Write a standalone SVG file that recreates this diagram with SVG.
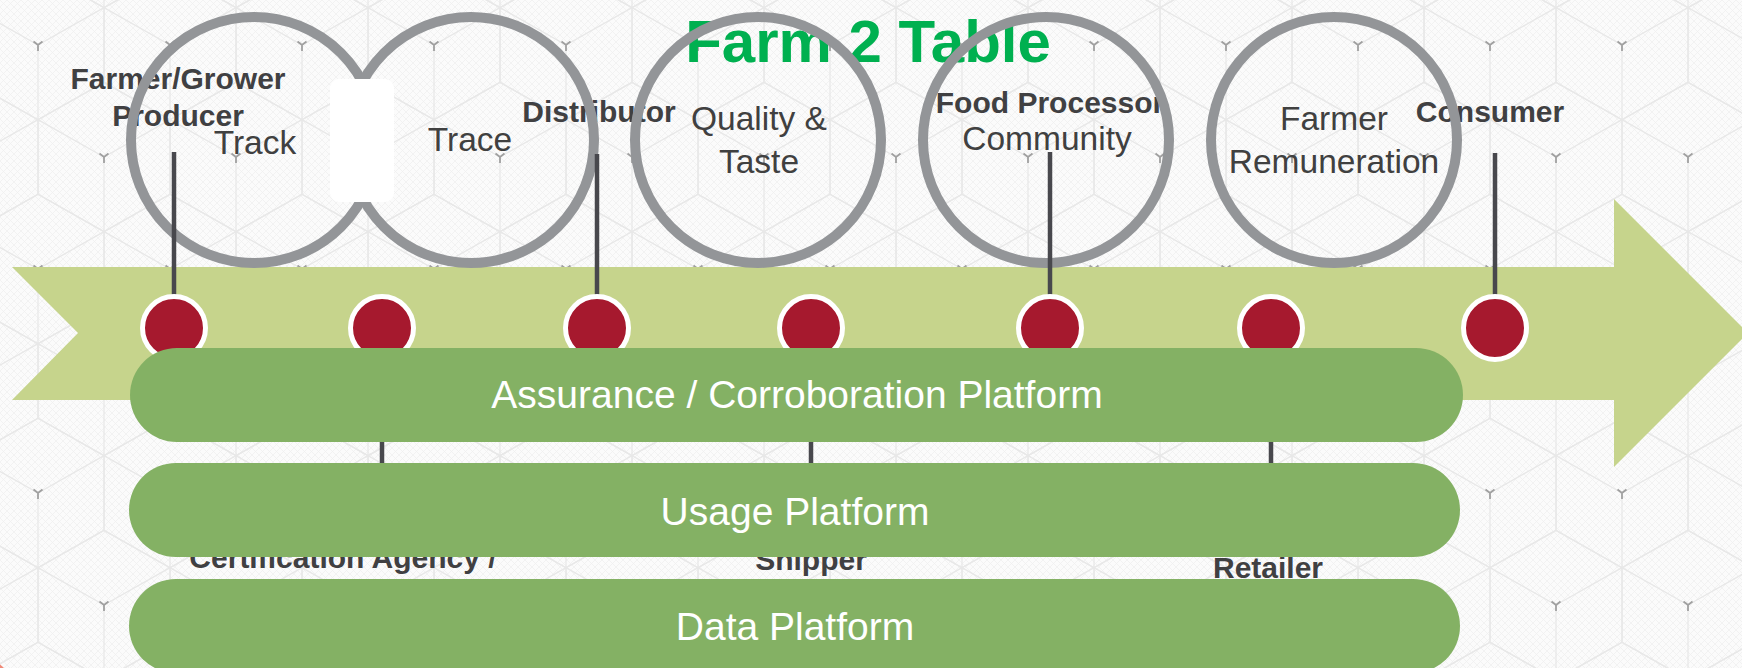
<svg xmlns="http://www.w3.org/2000/svg" xmlns:xlink="http://www.w3.org/1999/xlink" width="1742" height="668" viewBox="0 0 1742 668">
  <style>
    .title { font-family: "Liberation Sans", Arial, sans-serif; font-weight: bold; font-size: 60px; fill: #00b050; }
    .lbl { font-family: "Liberation Sans", Arial, sans-serif; font-weight: bold; font-size: 30px; fill: #404042; }
    .ctext { font-family: "Liberation Sans", Arial, sans-serif; font-size: 33.5px; fill: #404040; }
    .ptext { font-family: "Liberation Sans", Arial, sans-serif; font-size: 39px; fill: #ffffff; }
    .ring { fill: none; stroke: #939598; stroke-width: 10; }
    .conn { stroke: #48484d; stroke-width: 4.5; fill: none; }
    .dot { fill: #a6192e; stroke: #ffffff; stroke-width: 5; }
    .pill { fill: #84b164; }
    .hex { fill: none; stroke: #e8e8e8; stroke-width: 1.3; }
    .ymark { fill: none; stroke: #a0a0a0; stroke-width: 1.8; }
  </style>
  <defs>
    <pattern id="mesh" patternUnits="userSpaceOnUse" width="7" height="7">
      <rect width="7" height="7" fill="#fbfbfb"/>
      <path d="M0,0 L7,7 M7,0 L0,7" stroke="#f0f0f0" stroke-width="0.8"/>
    </pattern>
    <path id="hx" d="M0,-74.67 L66,-37.33 L66,37.33 L0,74.67 L-66,37.33 L-66,-37.33 Z M0,0 L-66,-37.33 M0,0 L66,-37.33 M0,0 L0,74.67"/>
    <path id="ym" d="M0,0 L-4.5,-3.5 M0,0 L4.5,-3.5 M0,0 L0,6"/>
    <pattern id="hexgrid" patternUnits="userSpaceOnUse" x="38" y="45" width="132" height="224">
      <g class="hex">
        <use xlink:href="#hx" transform="translate(0,0)"/>
        <use xlink:href="#hx" transform="translate(132,0)"/>
        <use xlink:href="#hx" transform="translate(-66,112)"/>
        <use xlink:href="#hx" transform="translate(66,112)"/>
        <use xlink:href="#hx" transform="translate(198,112)"/>
        <use xlink:href="#hx" transform="translate(0,224)"/>
        <use xlink:href="#hx" transform="translate(132,224)"/>
      </g>
      <g class="ymark">
        <use xlink:href="#ym" transform="translate(0,0)"/>
        <use xlink:href="#ym" transform="translate(132,0)"/>
        <use xlink:href="#ym" transform="translate(66,112)"/>
        <use xlink:href="#ym" transform="translate(0,224)"/>
        <use xlink:href="#ym" transform="translate(132,224)"/>
      </g>
    </pattern>
  </defs>

  <g id="background">
    <rect width="1742" height="668" fill="url(#mesh)"/>
    <rect width="1742" height="668" fill="url(#hexgrid)"/>
    <circle cx="-14" cy="684" r="24" fill="#ef8a78"/>
  </g>

  <g id="timeline-arrow">
    <polygon points="12,267 1614,267 1614,199 1748,333 1614,467 1614,400 12,400 78,333" fill="#c6d48c"/>
  </g>

  <g id="title">
    <text class="title" x="868" y="62" text-anchor="middle">Farm 2 Table</text>
  </g>

  <g id="stage-labels">
    <g id="farmer-grower"><text class="lbl" x="178" y="89" text-anchor="middle">Farmer/Grower</text><text class="lbl" x="178" y="126" text-anchor="middle">Producer</text></g>
    <g id="distributor"><text class="lbl" x="599" y="122" text-anchor="middle">Distributor</text></g>
    <g id="food-processor"><text class="lbl" x="1050" y="113" text-anchor="middle">Food Processor</text></g>
    <g id="consumer"><text class="lbl" x="1490" y="122" text-anchor="middle">Consumer</text></g>
    <g id="certification"><text class="lbl" x="343" y="568" text-anchor="middle">Certification Agency /</text></g>
    <g id="shipper"><text class="lbl" x="811" y="570" text-anchor="middle">Shipper</text></g>
    <g id="retailer"><text class="lbl" x="1268" y="578" text-anchor="middle">Retailer</text></g>
  </g>

  <g id="track-trace">
    <circle class="ring" cx="254" cy="140" r="123"/>
    <circle class="ring" cx="471" cy="140" r="123"/>
    <rect x="330" y="79" width="64" height="123" rx="9" fill="#ffffff"/>
    <text class="ctext" x="255" y="154" text-anchor="middle">Track</text>
    <text class="ctext" x="470" y="151" text-anchor="middle">Trace</text>
  </g>
  <g id="quality-taste">
    <circle class="ring" cx="758" cy="140" r="123"/>
    <text class="ctext" x="759" y="130" text-anchor="middle">Quality &amp;</text>
    <text class="ctext" x="759" y="173" text-anchor="middle">Taste</text>
  </g>
  <g id="community">
    <circle class="ring" cx="1046" cy="140" r="123"/>
    <text class="ctext" x="1047" y="150" text-anchor="middle">Community</text>
  </g>
  <g id="farmer-remuneration">
    <circle class="ring" cx="1334" cy="140" r="123"/>
    <text class="ctext" x="1334" y="130" text-anchor="middle">Farmer</text>
    <text class="ctext" x="1334" y="173" text-anchor="middle">Remuneration</text>
  </g>

  <g id="connectors">
    <line class="conn" x1="174" y1="152" x2="174" y2="300"/>
    <line class="conn" x1="597" y1="154" x2="597" y2="300"/>
    <line class="conn" x1="1050" y1="152" x2="1050" y2="300"/>
    <line class="conn" x1="1495" y1="153" x2="1495" y2="300"/>
    <line class="conn" x1="382" y1="330" x2="382" y2="470"/>
    <line class="conn" x1="811" y1="330" x2="811" y2="470"/>
    <line class="conn" x1="1271" y1="330" x2="1271" y2="470"/>
  </g>

  <g id="dots">
    <circle class="dot" cx="174" cy="328" r="31.5"/>
    <circle class="dot" cx="382" cy="328" r="31.5"/>
    <circle class="dot" cx="597" cy="328" r="31.5"/>
    <circle class="dot" cx="811" cy="328" r="31.5"/>
    <circle class="dot" cx="1050" cy="328" r="31.5"/>
    <circle class="dot" cx="1271" cy="328" r="31.5"/>
    <circle class="dot" cx="1495" cy="328" r="31.5"/>
  </g>

  <g id="assurance-platform">
    <rect class="pill" x="130" y="348" width="1333" height="94" rx="47"/>
    <text class="ptext" x="797" y="408" text-anchor="middle">Assurance / Corroboration Platform</text>
  </g>
  <g id="usage-platform">
    <rect class="pill" x="129" y="463" width="1331" height="94" rx="47"/>
    <text class="ptext" x="795" y="525" text-anchor="middle">Usage Platform</text>
  </g>
  <g id="data-platform">
    <rect class="pill" x="129" y="579" width="1331" height="94" rx="47"/>
    <text class="ptext" x="795" y="640" text-anchor="middle">Data Platform</text>
  </g>
</svg>
